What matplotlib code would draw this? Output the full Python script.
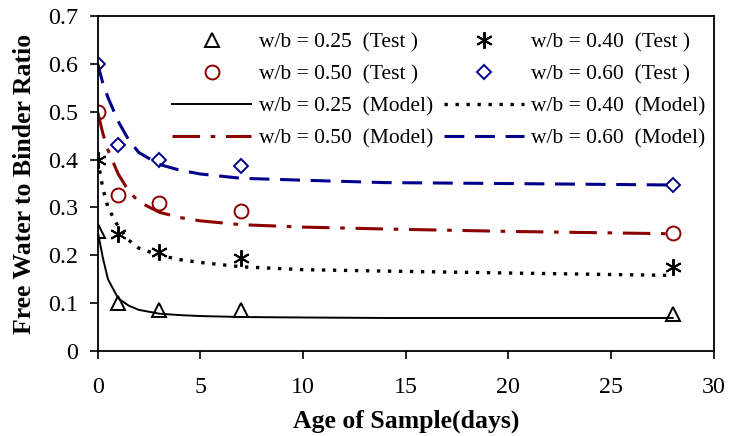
import matplotlib
matplotlib.use("Agg")
import matplotlib.pyplot as plt

plt.rcParams.update({"font.family": "Liberation Serif", "font.size": 15})
RED = "#8B0000"; NAVY = "#00008B"

# measured free water / binder ratio
t_test = [0, 1, 3, 7, 28]
test_025 = [0.25, 0.100, 0.085, 0.085, 0.077]
test_040 = [0.40, 0.245, 0.207, 0.195, 0.175]
test_050 = [0.50, 0.327, 0.310, 0.292, 0.247]
test_060 = [0.60, 0.430, 0.400, 0.387, 0.347]

# model curves
t_model = [0, 0.25, 0.5, 1, 1.5, 2, 3, 4, 5, 7, 10, 14, 20, 28]
model_025 = [0.250, 0.195, 0.150, 0.110, 0.095, 0.086, 0.078, 0.075, 0.073, 0.071, 0.070, 0.069, 0.069, 0.069]
model_040 = [0.400, 0.340, 0.300, 0.260, 0.232, 0.215, 0.200, 0.191, 0.185, 0.176, 0.170, 0.167, 0.163, 0.158]
model_050 = [0.500, 0.455, 0.420, 0.370, 0.335, 0.312, 0.290, 0.279, 0.272, 0.264, 0.259, 0.255, 0.250, 0.245]
model_060 = [0.600, 0.560, 0.530, 0.480, 0.442, 0.415, 0.390, 0.378, 0.370, 0.361, 0.357, 0.352, 0.350, 0.347]

fig = plt.figure(figsize=(7.29, 4.36), dpi=100)
ax = fig.add_axes([0.134, 0.195, 0.845, 0.768])

mk = dict(linestyle="none", markerfacecolor="none", markeredgewidth=1.4)
h_t25, = ax.plot(t_test, test_025, marker="^", markersize=10, color="black",
                 label="w/b = 0.25  (Test )", **mk)
h_t40, = ax.plot(t_test, test_040, marker=(6, 2, 0), markersize=12, color="black",
                 label="w/b = 0.40  (Test )", **mk)
h_t50, = ax.plot(t_test, test_050, marker="o", markersize=10, color=RED,
                 label="w/b = 0.50  (Test )", **mk)
h_t60, = ax.plot(t_test, test_060, marker="D", markersize=7.5, color=NAVY,
                 label="w/b = 0.60  (Test )", **mk)

h_m25, = ax.plot(t_model, model_025, "-", color="black", lw=1.4, label="w/b = 0.25  (Model)")
h_m40, = ax.plot(t_model, model_040, color="black", lw=2.4, linestyle=(0, (1, 2.3)),
                 label="w/b = 0.40  (Model)")
h_m50, = ax.plot(t_model, model_050, color=RED, lw=2.2, linestyle=(0, (9, 3.5, 1.5, 3.5)),
                 label="w/b = 0.50  (Model)")
h_m60, = ax.plot(t_model, model_060, color=NAVY, lw=2.2, linestyle=(0, (6.5, 3.5)),
                 label="w/b = 0.60  (Model)")

ax.set_xlim(0, 30)
ax.set_ylim(0, 0.7)
ax.set_xticks([0, 5, 10, 15, 20, 25, 30])
ax.set_yticks([0, 0.1, 0.2, 0.3, 0.4, 0.5, 0.6, 0.7])
ax.set_yticklabels(["0", "0.1", "0.2", "0.3", "0.4", "0.5", "0.6", "0.7"])
ax.tick_params(direction="out", length=6, width=1.2, labelsize=17.3)
ax.tick_params(axis="x", pad=13)
ax.tick_params(axis="y", pad=8)
for s in ax.spines.values():
    s.set_linewidth(1.3)

ax.set_xlabel("Age of Sample(days)", fontweight="bold", fontsize=18.5, labelpad=8)
ax.set_ylabel("Free Water to Binder Ratio", fontweight="bold", fontsize=18.5, labelpad=9)

handles = [h_t25, h_t50, h_m25, h_m50, h_t40, h_t60, h_m40, h_m60]
ax.legend(handles=handles, ncol=2, loc="upper right", frameon=False, fontsize=15.5,
          handlelength=3.7, columnspacing=0.5, handletextpad=0.35, labelspacing=0.56,
          borderaxespad=0.2, bbox_to_anchor=(1.008, 0.99))

fig.savefig("out.png", dpi=100)
